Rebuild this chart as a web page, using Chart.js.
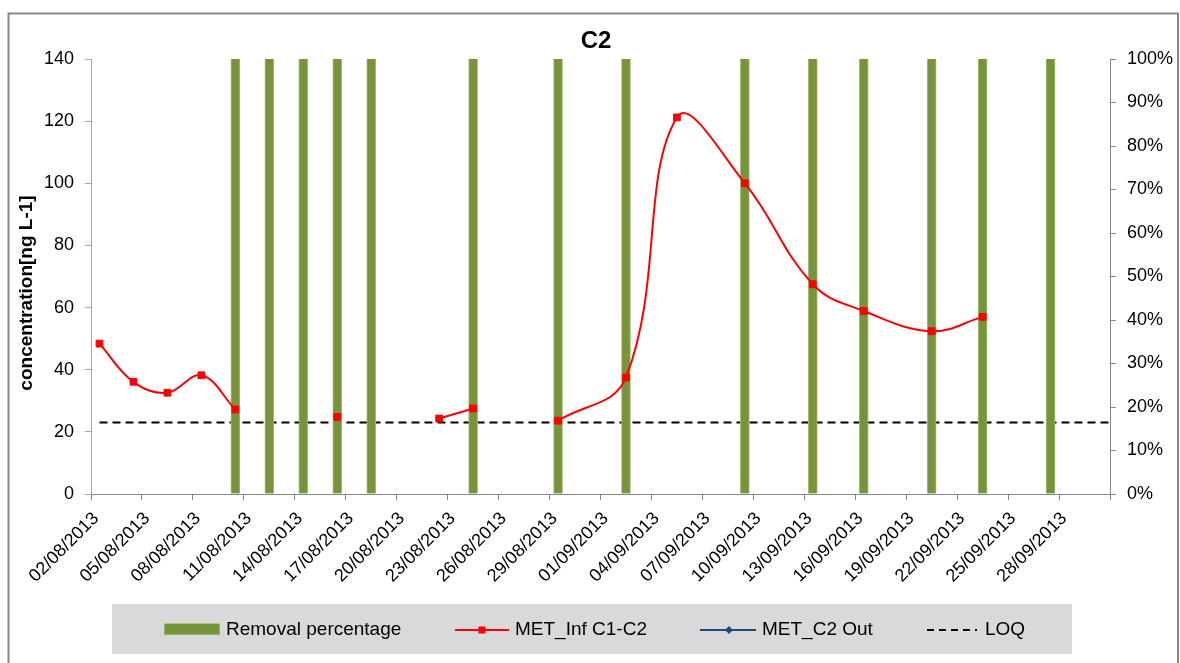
<!DOCTYPE html>
<html>
<head>
<meta charset="utf-8">
<script src="https://cdn.jsdelivr.net/npm/chart.js@4.4.1/dist/chart.umd.min.js"></script>
<style>
html,body{margin:0;padding:0;background:#fff;}
#wrap{width:1180px;height:663px;position:relative;}
</style>
</head>
<body>
<div id="wrap"><canvas id="c" width="1180" height="663"></canvas></div>
<script>
// ---------------- DATA ----------------
const chartTitle = 'C2';
const yAxisTitle = 'concentration[ng L-1]';
const axisStartDate = '02/08/2013';
const axisEndDate = '01/10/2013';
const tickStepDays = 3;

const concTickMax = 140;
const concTickStep = 20;
const pctTickMax = 100;
const pctTickStep = 10;

const removalLabel = 'Removal percentage';
const removalDates = ['10/08/2013','12/08/2013','14/08/2013','16/08/2013','18/08/2013','24/08/2013',
  '29/08/2013','02/09/2013','09/09/2013','13/09/2013','16/09/2013','20/09/2013','23/09/2013','27/09/2013'];
const removalValues = [100,100,100,100,100,100,100,100,100,100,100,100,100,100];

const metInfLabel = 'MET_Inf C1-C2';
const metInfDates = ['02/08/2013','04/08/2013','06/08/2013','08/08/2013','10/08/2013','12/08/2013',
  '16/08/2013','18/08/2013','22/08/2013','24/08/2013','26/08/2013','29/08/2013','02/09/2013',
  '05/09/2013','09/09/2013','13/09/2013','16/09/2013','20/09/2013','23/09/2013'];
const metInfValues = [48.4,36.1,32.6,38.2,27.2,null,24.8,null,24.3,27.5,null,23.6,37.5,121.2,100.0,67.5,58.9,52.4,57.0];

const metOutLabel = 'MET_C2 Out';
const metOutDates = [];
const metOutValues = [];

const loqLabel = 'LOQ';
const loqDates = ['02/08/2013','01/10/2013'];
const loqValues = [23, 23];

// ---------------- HELPERS ----------------
const DAY = 86400000;
function parseDate(s){ const p = s.split('/').map(Number); return Date.UTC(p[2], p[1]-1, p[0]); }
const baseTime = parseDate(axisStartDate);
const axisMax = Math.round((parseDate(axisEndDate) - baseTime) / DAY);
// each date occupies a one-day slot; its mark sits in the middle of that slot
function slot(s){ return Math.round((parseDate(s) - baseTime) / DAY) + 0.5; }
function fmtDay(n){
  const d = new Date(baseTime + n * DAY);
  const dd = String(d.getUTCDate()).padStart(2,'0');
  const mm = String(d.getUTCMonth()+1).padStart(2,'0');
  return dd + '/' + mm + '/' + d.getUTCFullYear();
}
function pts(dates, vals){ return dates.map((d,i)=>({x: slot(d), y: vals[i]})); }

const FONT = "'Liberation Sans', Arial, sans-serif";
Chart.defaults.font.family = FONT;
Chart.defaults.font.size = 18;
Chart.defaults.color = '#000';

const GREEN = '#77933C';
const RED = '#FF0000';
const BLUE = '#1F497D';

// ---------------- PLUGINS ----------------
const frame = {
  id: 'frame',
  beforeDraw(chart){
    const ctx = chart.ctx;
    ctx.save();
    ctx.fillStyle = '#fff';
    ctx.fillRect(0,0,chart.width,chart.height);
    ctx.strokeStyle = '#8a8a8a';
    ctx.lineWidth = 2;
    ctx.strokeRect(8.5, 13.5, 1169.5, 700);
    ctx.restore();
  }
};

// y-axis title, placed as in the original (slightly below the axis centre)
const yTitlePlugin = {
  id: 'yTitlePlugin',
  afterDraw(chart){
    const ctx = chart.ctx;
    ctx.save();
    ctx.translate(27, 293);
    ctx.rotate(-Math.PI/2);
    ctx.font = 'bold 19px ' + FONT;
    ctx.fillStyle = '#000';
    ctx.textAlign = 'center';
    ctx.textBaseline = 'middle';
    ctx.fillText(yAxisTitle, 0, 0);
    ctx.restore();
  }
};

const customLegend = {
  id: 'customLegend',
  afterDraw(chart){
    const ctx = chart.ctx;
    const ds = chart.data.datasets;
    const cy = 629.5;
    ctx.save();
    ctx.fillStyle = '#D9D9D9';
    ctx.fillRect(112, 604, 960, 50);
    ctx.font = '19px ' + FONT;
    ctx.textBaseline = 'middle';
    ctx.textAlign = 'left';
    // removal
    ctx.fillStyle = GREEN;
    ctx.fillRect(164, 623.5, 56, 11.5);
    ctx.strokeStyle = '#B5CC8A';
    ctx.lineWidth = 1;
    ctx.setLineDash([1,1]);
    ctx.strokeRect(164.5, 623.5, 55, 11);
    ctx.setLineDash([]);
    ctx.fillStyle = '#000';
    ctx.fillText(ds[1].label, 226, cy);
    // MET inf
    ctx.strokeStyle = RED; ctx.lineWidth = 2;
    ctx.beginPath(); ctx.moveTo(455, 630); ctx.lineTo(509, 630); ctx.stroke();
    ctx.fillStyle = RED; ctx.fillRect(478.5, 626.5, 7, 7);
    ctx.fillStyle = '#000';
    ctx.fillText(ds[0].label, 515, cy);
    // MET out
    ctx.strokeStyle = BLUE; ctx.lineWidth = 2;
    ctx.beginPath(); ctx.moveTo(700, 630); ctx.lineTo(756, 630); ctx.stroke();
    ctx.fillStyle = BLUE;
    ctx.beginPath(); ctx.moveTo(729, 626); ctx.lineTo(733, 630); ctx.lineTo(729, 634); ctx.lineTo(725, 630); ctx.closePath(); ctx.fill();
    ctx.fillStyle = '#000';
    ctx.fillText(ds[2].label, 762, cy);
    // LOQ
    ctx.strokeStyle = '#000'; ctx.lineWidth = 2;
    ctx.setLineDash([7,5]);
    ctx.beginPath(); ctx.moveTo(927, 630); ctx.lineTo(977, 630); ctx.stroke();
    ctx.setLineDash([]);
    ctx.fillText(ds[3].label, 985, cy);
    ctx.restore();
  }
};

// ---------------- CHART ----------------
const AXIS = '#868686';
new Chart(document.getElementById('c'), {
  type: 'line',
  data: {
    datasets: [
      {
        type: 'line', label: metInfLabel, data: pts(metInfDates, metInfValues), yAxisID: 'y',
        borderColor: RED, backgroundColor: RED, borderWidth: 2, tension: 0.4,
        pointStyle: 'rect', pointRadius: 4.8, pointBorderWidth: 1, pointBackgroundColor: RED, pointBorderColor: RED,
        spanGaps: false, order: 1
      },
      {
        type: 'bar', label: removalLabel, data: pts(removalDates, removalValues), yAxisID: 'y2',
        backgroundColor: GREEN, borderColor: '#A3BC72', borderWidth: {left:1, right:1, top:0, bottom:0},
        barThickness: 9, order: 2
      },
      {
        type: 'line', label: metOutLabel, data: pts(metOutDates, metOutValues), yAxisID: 'y',
        borderColor: BLUE, backgroundColor: BLUE, borderWidth: 2, pointStyle: 'rectRot', pointRadius: 4, order: 1
      },
      {
        type: 'line', label: loqLabel, data: pts(loqDates, loqValues), yAxisID: 'y',
        borderColor: '#000', borderWidth: 2, borderDash: [8,5], pointRadius: 0, tension: 0, order: 3
      }
    ]
  },
  options: {
    responsive: false,
    animation: false,
    devicePixelRatio: 1,
    events: [],
    layout: { padding: { left: 12, right: 0, top: 0, bottom: 0 } },
    plugins: {
      legend: { display: false },
      tooltip: { enabled: false },
      title: {
        display: true, text: chartTitle, color: '#000',
        font: { size: 24, weight: 'bold', family: FONT },
        padding: { top: 27, bottom: 3.2 }
      }
    },
    scales: {
      x: {
        type: 'linear', min: 0, max: axisMax, offset: false,
        afterFit(s){ s.height = 169; },
        grid: { display: true, drawOnChartArea: false, drawTicks: true, tickLength: 6, color: AXIS, offset: false },
        border: { display: true, color: AXIS, width: 1 },
        ticks: {
          stepSize: tickStepDays, autoSkip: false, maxRotation: 45, minRotation: 45, padding: 8, labelOffset: 5,
          font: { size: 18 }, color: '#000',
          callback: (v) => (v >= axisMax ? '' : fmtDay(v))
        }
      },
      y: {
        type: 'linear', position: 'left', min: 0, max: concTickMax,
        afterFit(s){ s.width = 79; },
        grid: { display: true, drawOnChartArea: false, drawTicks: true, tickLength: 6, color: '#a6a6a6' },
        border: { display: true, color: '#a6a6a6', width: 1 },
        ticks: { stepSize: concTickStep, padding: 11, font: { size: 18 }, color: '#000' },
        title: { display: false, text: yAxisTitle }
      },
      y2: {
        type: 'linear', position: 'right', min: 0, max: pctTickMax,
        afterFit(s){ s.width = 70; },
        grid: { display: true, drawOnChartArea: false, drawTicks: true, tickLength: 6, color: AXIS },
        border: { display: true, color: AXIS, width: 1 },
        ticks: { stepSize: pctTickStep, padding: 11, font: { size: 18 }, color: '#000', callback: (v) => v + '%' }
      }
    }
  },
  plugins: [frame, yTitlePlugin, customLegend]
});
</script>
</body>
</html>
